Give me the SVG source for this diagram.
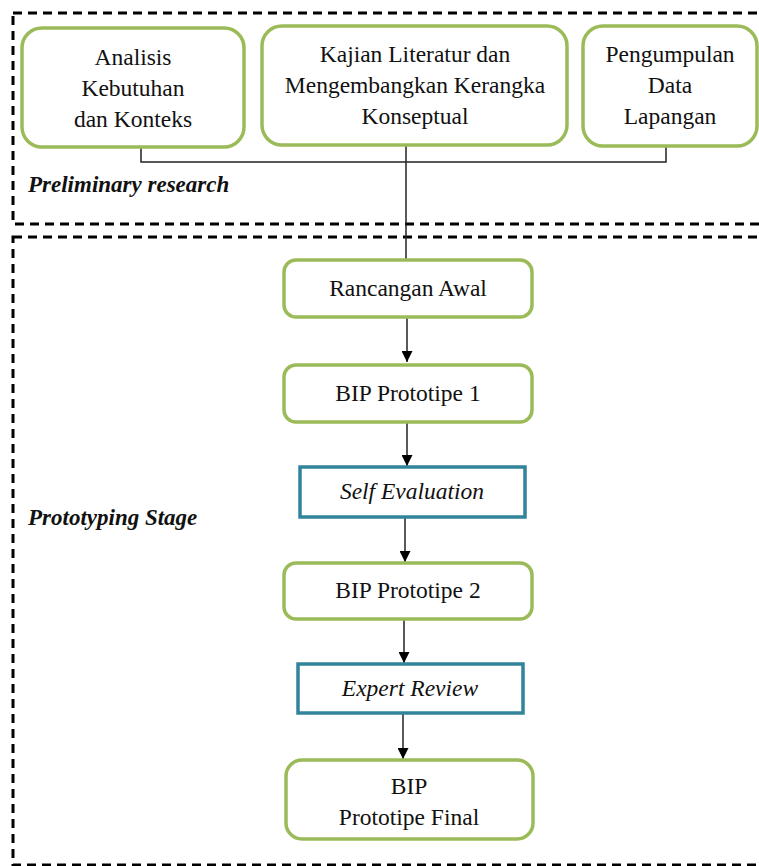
<svg xmlns="http://www.w3.org/2000/svg" width="759" height="866" viewBox="0 0 759 866">
<style>
.stage{fill:none;stroke:#000;stroke-width:3;stroke-dasharray:9 6}
.g{fill:#fff;stroke:#9bbb59;stroke-width:3.5}
.b{fill:#fff;stroke:#31849b;stroke-width:3.5}
.t{font-family:"Liberation Serif","Times New Roman",Times,serif;font-size:23.5px;fill:#111;text-anchor:middle}
.i{font-style:italic}
.lbl{font-family:"Liberation Serif","Times New Roman",Times,serif;font-size:23px;font-weight:bold;font-style:italic;fill:#111}
.c{fill:none;stroke:#222;stroke-width:1.5}
</style>
<defs>
<marker id="ah" markerWidth="11" markerHeight="11" refX="11" refY="5.5" orient="auto" markerUnits="userSpaceOnUse">
<path d="M0,0 L11,5.5 L0,11 Z" fill="#000"/>
</marker>
</defs>
<g id="stages">
<rect class="stage" x="13" y="13" width="770" height="211"/>
<rect class="stage" x="13" y="237" width="770" height="628"/>
<text class="lbl" x="28" y="192">Preliminary research</text>
<text class="lbl" x="28" y="525">Prototyping Stage</text>
</g>
<g id="connectors">
<path class="c" d="M141,147 V162 H666 V146"/>
<path class="c" d="M406,145 V260"/>
<path class="c" d="M407,318 V362" marker-end="url(#ah)"/>
<path class="c" d="M407,423 V466" marker-end="url(#ah)"/>
<path class="c" d="M405,518 V562" marker-end="url(#ah)"/>
<path class="c" d="M404,620 V663" marker-end="url(#ah)"/>
<path class="c" d="M403,714 V759" marker-end="url(#ah)"/>
</g>
<g id="analisis">
<rect class="g" x="22" y="28" width="222" height="119" rx="20"/>
<text class="t" x="133" y="65">Analisis</text>
<text class="t" x="133" y="96">Kebutuhan</text>
<text class="t" x="133" y="127">dan Konteks</text>
</g>
<g id="kajian">
<rect class="g" x="262" y="26" width="305" height="119" rx="20"/>
<text class="t" x="415" y="62">Kajian Literatur dan</text>
<text class="t" x="415" y="93">Mengembangkan Kerangka</text>
<text class="t" x="415" y="124">Konseptual</text>
</g>
<g id="pengumpulan">
<rect class="g" x="583" y="26" width="174" height="120" rx="20"/>
<text class="t" x="670" y="62">Pengumpulan</text>
<text class="t" x="670" y="93">Data</text>
<text class="t" x="670" y="124">Lapangan</text>
</g>
<g id="rancangan">
<rect class="g" x="284" y="260" width="248" height="57" rx="12"/>
<text class="t" x="408" y="296">Rancangan Awal</text>
</g>
<g id="bip1">
<rect class="g" x="284" y="365" width="248" height="57" rx="12"/>
<text class="t" x="408" y="401">BIP Prototipe 1</text>
</g>
<g id="self-eval">
<rect class="b" x="300" y="467" width="225" height="50"/>
<text class="t i" x="412" y="499">Self Evaluation</text>
</g>
<g id="bip2">
<rect class="g" x="284" y="563" width="248" height="56" rx="12"/>
<text class="t" x="408" y="598">BIP Prototipe 2</text>
</g>
<g id="expert-review">
<rect class="b" x="298" y="664" width="225" height="49"/>
<text class="t i" x="410" y="696">Expert Review</text>
</g>
<g id="bip-final">
<rect class="g" x="286" y="760" width="247" height="79" rx="16"/>
<text class="t" x="409" y="794">BIP</text>
<text class="t" x="409" y="825">Prototipe Final</text>
</g>
</svg>
